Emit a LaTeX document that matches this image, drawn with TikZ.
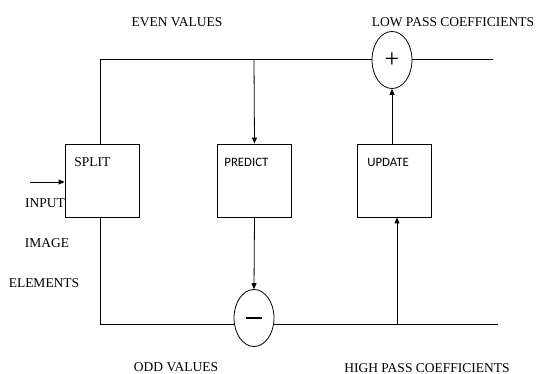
\documentclass[tikz,border=0pt]{standalone}
\usepackage{fontspec}
\setmainfont{Liberation Serif}
\newfontfamily\boxfont{Carlito}
\usetikzlibrary{shapes.geometric, arrows.meta, positioning}

\begin{document}
\begin{tikzpicture}[x=1pt, y=-1pt,
  box/.style={draw, minimum width=74pt, minimum height=73pt, inner sep=0pt},
  junction/.style={draw, ellipse, minimum width=40pt, minimum height=57pt, inner sep=0pt},
  lbl/.style={font=\fontsize{13.5}{15}\selectfont, inner sep=0pt},
  boxlbl/.style={font=\boxfont\fontsize{12.8}{14}\selectfont, inner sep=0pt, anchor=west},
  flow/.style={-{Triangle[length=6pt,width=5pt]}},
  every path/.style={line width=0.8pt}]
\useasboundingbox (0,0) rectangle (538,374);
% --- blocks ---
\node[box] (split) at (102,180.5) {};
\node[box] (predict) at (254.5,180.5) {};
\node[box] (update) at (394.5,180.5) {};
\node[boxlbl, font=\fontsize{13.5}{15}\selectfont] (splitTxt) at (74,162) {SPLIT};
\node[boxlbl] (predictTxt) at (224,162) {PREDICT};
\node[boxlbl] (updateTxt) at (367,162) {UPDATE};
% --- adders ---
\node[junction] (plus) at (392,60) {\fontsize{26}{26}\selectfont +};
\node[junction] (minus) at (254,318) {\rule{16pt}{2.2pt}};
% --- corner points ---
\coordinate (evenCorner) at (100,59);
\coordinate (oddCorner) at (100,324);
\coordinate (predTap) at (254,59);
\coordinate (updTap) at (397,324);
\coordinate (lowEnd) at (493,59);
\coordinate (highEnd) at (498,324);
\coordinate (inStart) at (30,182);
% --- connectors ---
\draw (split.north -| evenCorner) -- (evenCorner) -- (plus.west |- evenCorner);
\draw (split.south -| oddCorner) -- (oddCorner) -- (minus.west |- oddCorner);
\draw (minus.east |- oddCorner) -- (highEnd);
\draw (plus.east |- lowEnd) -- (lowEnd);
\draw[flow] (predTap) -- (predict.north);
\draw[flow] (predict.south) -- (minus.north);
\draw[flow] (updTap) -- (update.south -| updTap);
\draw[flow] (update.north -| plus) -- (plus.south);
\draw[flow] (inStart) -- (split.west |- inStart);
% --- labels ---
\node[lbl] (evenLbl) at (177,22) {EVEN VALUES};
\node[lbl] (lowLbl) at (453,22) {LOW PASS COEFFICIENTS};
\node[lbl] (inputLbl) at (45,203) {INPUT};
\node[lbl] (imageLbl) at (47,243) {IMAGE};
\node[lbl] (elemLbl) at (44,283) {ELEMENTS};
\node[lbl] (oddLbl) at (176,367) {ODD VALUES};
\node[lbl] (highLbl) at (427,368) {HIGH PASS COEFFICIENTS};
\end{tikzpicture}
\end{document}
